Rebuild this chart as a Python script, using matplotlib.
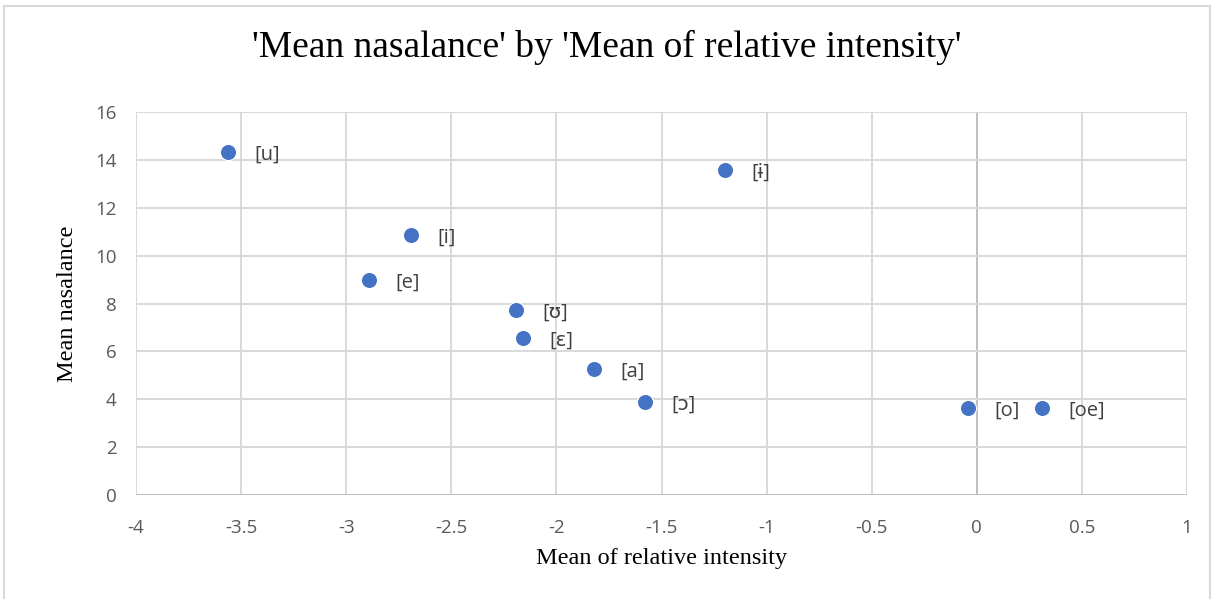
import matplotlib.pyplot as plt
from matplotlib.patches import Rectangle

labels = ['[u]', '[ɨ]', '[i]', '[e]', '[ʊ]', '[ɛ]', '[a]', '[ɔ]', '[o]', '[oe]']
intensity = [-3.56, -1.20, -2.69, -2.89, -2.19, -2.16, -1.82, -1.58, -0.04, 0.31]
nasalance = [14.32, 13.58, 10.86, 8.98, 7.73, 6.56, 5.26, 3.88, 3.63, 3.63]

xticks = [-4, -3.5, -3, -2.5, -2, -1.5, -1, -0.5, 0, 0.5, 1]
xtick_labels = ['-4', '-3.5', '-3', '-2.5', '-2', '-1.5', '-1', '-0.5', '0', '0.5', '1']
yticks = [0, 2, 4, 6, 8, 10, 12, 14, 16]

fig = plt.figure(figsize=(12.16, 5.99), dpi=100)
ax = fig.add_axes([0.1118, 0.1736, 0.8644, 0.6394])

grid_c = '#d9d9d9'
for x in xticks:
    ax.axvline(x, color='#bfbfbf' if x == 0 else grid_c, lw=1.4, zorder=0)
for y in yticks:
    ax.axhline(y, color='#bfbfbf' if y == 0 else grid_c, lw=1.4, zorder=0)

ax.scatter(intensity, nasalance, s=135, color='#4472c4', edgecolor='white',
           linewidth=0.8, zorder=3)
for lx, ly, lab in zip(intensity, nasalance, labels):
    ax.annotate(lab, (lx, ly), xytext=(19, -2), textcoords='offset points',
                fontsize=14.5, color='#404040', family=['Open Sans', 'DejaVu Sans'],
                va='center', ha='left')

ax.set_xlim(-4, 1)
ax.set_ylim(0, 16)
ax.set_xticks(xticks)
ax.set_xticklabels(xtick_labels)
ax.set_yticks(yticks)
for s in ax.spines.values():
    s.set_visible(False)
ax.tick_params(length=0, labelsize=13.5, colors='#595959')
ax.tick_params(axis='x', pad=17)
ax.tick_params(axis='y', pad=14)
for t in ax.get_xticklabels() + ax.get_yticklabels():
    t.set_family('Open Sans')

ax.set_xlabel('Mean of relative intensity', family='Liberation Serif', fontsize=17.5, labelpad=8)
ax.set_ylabel('Mean nasalance', family='Liberation Serif', fontsize=17.5, labelpad=12)
fig.text(0.499, 0.921, "'Mean nasalance' by 'Mean of relative intensity'",
         family='Liberation Serif', fontsize=27, ha='center', va='center')

fig.patches.append(Rectangle((0.003, -0.01), 0.992, 1.0, transform=fig.transFigure,
                             fill=False, edgecolor='#d9d9d9', lw=1.5))

fig.savefig('out.png', dpi=100)
